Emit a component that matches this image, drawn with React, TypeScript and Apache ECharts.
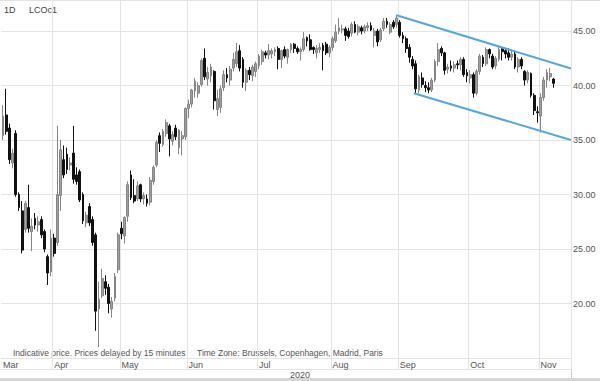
import React, { useEffect, useRef } from "react";
import * as echarts from "echarts";

// Trading days shown on the category axis (2020)
const marDays = [10, 11, 12, 13, 16, 17, 18, 19, 20, 23, 24, 25, 26, 27, 30, 31];
const aprDays = [1, 2, 3, 6, 7, 8, 9, 13, 14, 15, 16, 17, 20, 21, 22, 23, 24, 27, 28, 29, 30];
const mayDays = [1, 4, 5, 6, 7, 8, 11, 12, 13, 14, 15, 18, 19, 20, 21, 22, 25, 26, 27, 28, 29];
const junDays = [1, 2, 3, 4, 5, 8, 9, 10, 11, 12, 15, 16, 17, 18, 19, 22, 23, 24, 25, 26, 29, 30];
const julDays = [1, 2, 3, 6, 7, 8, 9, 10, 13, 14, 15, 16, 17, 20, 21, 22, 23, 24, 27, 28, 29, 30, 31];
const augDays = [3, 4, 5, 6, 7, 10, 11, 12, 13, 14, 17, 18, 19, 20, 21, 24, 25, 26, 27, 28, 31];
const sepDays = [1, 2, 3, 4, 7, 8, 9, 10, 11, 14, 15, 16, 17, 18, 21, 22, 23, 24, 25, 28, 29, 30];
const octDays = [1, 2, 5, 6, 7, 8, 9, 12, 13, 14, 15, 16, 19, 20, 21, 22, 23, 26, 27, 28, 29, 30];
const novDays = [2, 3, 4, 5, 6, 9, 10, 11, 12, 13];

const monthNames = ["Jan", "Feb", "Mar", "Apr", "May", "Jun", "Jul", "Aug", "Sep", "Oct", "Nov", "Dec"];

// [open, high, low, close]
const marOHLC = [
  [35.4, 38.2, 35.0, 37.2], [37.3, 39.7, 35.5, 35.8], [36.1, 36.5, 32.8, 33.2], [32.9, 34.2, 32.4, 33.8],
  [35.6, 35.9, 29.8, 30.0], [30.0, 30.2, 28.5, 28.8], [28.5, 29.4, 24.6, 24.9], [26.8, 29.4, 26.5, 29.2],
  [28.8, 30.9, 26.5, 26.9], [26.6, 27.8, 24.8, 27.1], [27.8, 28.3, 26.8, 27.2], [27.2, 28.0, 26.6, 27.5],
  [27.7, 28.0, 26.0, 26.3], [26.6, 26.8, 24.7, 25.0], [24.3, 24.5, 21.7, 22.8], [22.9, 26.8, 22.5, 26.0],
];
const aprOHLC = [
  [26.0, 26.4, 24.3, 24.6], [25.6, 36.3, 25.3, 30.0], [29.9, 35.0, 28.5, 34.1], [33.2, 34.5, 31.5, 31.8],
  [33.7, 34.3, 31.9, 32.3], [32.7, 33.4, 32.2, 32.9], [33.8, 36.3, 31.0, 31.4], [31.8, 32.5, 30.9, 31.2],
  [32.1, 32.3, 29.3, 29.5], [30.0, 30.2, 27.3, 27.6], [27.4, 28.4, 27.0, 28.1], [28.9, 29.2, 27.1, 27.4],
  [27.7, 28.0, 25.3, 25.6], [26.3, 26.5, 17.5, 19.3], [19.5, 22.0, 16.0, 20.4], [20.7, 23.2, 20.5, 22.3],
  [22.0, 22.6, 20.8, 21.4], [21.5, 21.8, 19.1, 20.0], [19.5, 20.6, 18.7, 20.2], [20.5, 22.8, 20.2, 22.5],
  [23.1, 26.5, 22.8, 26.3],
];
const mayOHLC = [
  [26.9, 27.5, 25.9, 26.4], [26.2, 28.0, 25.5, 27.9], [28.0, 31.2, 27.5, 30.9], [31.8, 32.2, 29.5, 29.7],
  [29.9, 31.4, 29.2, 29.4], [29.6, 31.2, 29.4, 30.8], [30.9, 31.0, 29.3, 29.6], [29.6, 30.2, 29.1, 29.9],
  [29.6, 30.0, 28.9, 29.2], [29.3, 31.6, 29.0, 31.3], [31.2, 32.7, 30.9, 32.5], [32.7, 35.0, 32.5, 34.8],
  [35.4, 35.7, 33.9, 34.7], [34.6, 36.0, 34.4, 35.8], [35.6, 36.9, 35.3, 36.6], [36.3, 36.5, 33.5, 35.1],
  [34.9, 35.8, 34.5, 35.5], [36.1, 36.4, 35.0, 35.3], [34.3, 36.0, 33.7, 35.9], [35.1, 35.8, 33.6, 35.4],
  [35.3, 38.0, 35.0, 37.9],
];
const junOHLC = [
  [37.9, 38.7, 37.0, 38.3], [38.3, 39.7, 38.0, 39.6], [39.5, 40.7, 38.9, 40.4], [39.3, 40.3, 38.9, 40.0],
  [40.1, 42.5, 39.9, 42.3], [42.5, 43.4, 40.5, 40.8], [40.6, 41.7, 40.0, 41.2], [40.9, 42.0, 40.3, 41.7],
  [41.3, 41.4, 37.8, 38.6], [37.8, 39.6, 37.2, 38.8], [38.0, 40.0, 37.5, 39.7], [39.8, 41.4, 39.5, 41.0],
  [41.0, 41.6, 40.3, 40.7], [40.5, 41.8, 40.0, 41.5], [41.6, 43.0, 41.3, 42.4], [42.0, 43.9, 41.7, 43.1],
  [43.2, 43.7, 41.3, 41.6], [42.4, 42.6, 39.8, 40.3], [40.3, 41.6, 39.5, 41.4], [41.4, 41.7, 40.5, 41.0],
  [40.9, 41.9, 40.4, 41.7], [41.3, 42.2, 40.8, 42.0],
];
const julOHLC = [
  [41.8, 42.9, 41.5, 42.7], [42.2, 43.3, 41.9, 43.1], [43.0, 43.2, 42.5, 42.8], [42.8, 43.8, 42.4, 43.2],
  [42.9, 43.4, 42.5, 43.2], [43.1, 43.5, 42.7, 43.3], [43.4, 43.6, 41.5, 42.4], [42.4, 43.3, 41.6, 43.2],
  [43.3, 43.6, 42.5, 42.7], [42.6, 43.4, 42.0, 43.3], [43.3, 43.9, 43.0, 43.8], [43.8, 43.9, 43.0, 43.4],
  [43.4, 43.6, 42.9, 43.1], [43.1, 43.5, 42.3, 43.3], [43.3, 44.9, 43.1, 44.3], [44.4, 44.5, 43.6, 44.1],
  [44.2, 44.7, 43.2, 43.3], [43.5, 43.6, 42.9, 43.3], [43.0, 43.7, 42.5, 43.4], [43.3, 43.9, 43.0, 43.5],
  [43.7, 43.9, 41.4, 43.2], [43.8, 44.0, 42.8, 43.0], [43.0, 43.7, 42.6, 43.5],
];
const augOHLC = [
  [43.5, 44.5, 43.2, 44.3], [44.1, 45.6, 43.9, 44.9], [45.0, 46.2, 44.7, 45.3], [45.1, 45.6, 44.8, 45.2],
  [45.2, 45.4, 44.1, 44.6], [45.0, 45.3, 44.3, 44.5], [44.8, 45.8, 44.5, 45.6], [45.6, 45.9, 44.8, 44.9],
  [44.9, 45.6, 44.6, 45.4], [45.3, 45.5, 44.7, 45.0], [45.0, 45.6, 44.8, 45.4], [45.3, 45.8, 45.0, 45.5],
  [45.5, 45.8, 45.0, 45.1], [44.6, 45.3, 43.5, 45.0], [45.0, 45.2, 43.6, 44.0], [44.2, 45.3, 44.0, 45.1],
  [45.2, 46.2, 45.0, 45.9], [45.9, 46.2, 45.3, 45.6], [44.9, 45.8, 44.7, 45.6], [45.8, 46.0, 45.2, 45.4],
  [45.6, 46.5, 45.3, 46.2],
];
const sepOHLC = [
  [45.8, 46.0, 44.4, 44.6], [44.6, 44.9, 43.9, 44.3], [44.3, 44.5, 43.0, 43.4], [43.5, 43.8, 42.1, 42.6],
  [42.4, 42.7, 41.5, 41.8], [42.0, 42.3, 39.3, 39.7], [39.6, 41.0, 39.3, 40.8], [40.7, 41.2, 39.8, 40.1],
  [40.0, 40.4, 39.4, 39.8], [39.8, 40.3, 39.3, 39.6], [39.6, 40.7, 39.4, 40.5], [40.5, 42.4, 40.3, 42.2],
  [42.2, 43.9, 41.8, 43.3], [43.4, 43.6, 42.7, 43.0], [43.0, 43.1, 41.0, 41.4], [41.5, 42.0, 41.1, 41.7],
  [41.8, 42.3, 41.3, 41.6], [41.6, 42.2, 41.2, 41.9], [42.0, 42.3, 41.5, 41.9], [41.9, 42.6, 41.4, 42.4],
  [42.4, 42.6, 40.8, 41.0], [41.2, 41.5, 40.3, 40.9],
];
const octOHLC = [
  [40.7, 41.4, 40.2, 41.0], [41.0, 41.2, 38.9, 39.3], [39.3, 41.5, 39.1, 41.3], [41.3, 42.9, 41.0, 42.7],
  [42.6, 42.8, 41.7, 42.0], [42.0, 43.5, 41.8, 43.3], [43.3, 43.4, 42.5, 42.9], [42.7, 42.9, 41.5, 41.7],
  [41.8, 42.7, 41.5, 42.5], [42.4, 43.6, 42.2, 43.3], [43.4, 43.5, 42.3, 43.1], [43.2, 43.4, 42.5, 42.9],
  [43.0, 43.4, 42.3, 42.6], [42.6, 43.3, 42.3, 42.9], [42.9, 43.2, 41.5, 41.7], [41.7, 42.6, 41.2, 42.4],
  [42.4, 42.6, 41.5, 41.8], [41.3, 41.4, 40.0, 40.5], [40.5, 41.4, 40.2, 41.2], [41.1, 41.2, 38.9, 39.1],
  [39.1, 39.3, 37.3, 37.7], [37.6, 38.1, 36.6, 37.5],
];
const novOHLC = [
  [37.2, 39.3, 35.7, 38.9], [38.9, 40.8, 38.6, 40.5], [40.5, 41.5, 39.8, 41.2], [40.8, 41.6, 40.4, 41.1],
  [40.6, 40.7, 39.8, 40.2],
];

// Trend channel endpoints: [category index, price]
const upperChannel = [[123, 46.45], [177.5, 41.57]];
const lowerChannel = [[128.4, 39.3], [177.5, 35.0]];

const yTicks = { min: 15, max: 47.85, interval: 5 };

const monthBlocks: [number, number[]][] = [
  [3, marDays], [4, aprDays], [5, mayDays], [6, junDays], [7, julDays],
  [8, augDays], [9, sepDays], [10, octDays], [11, novDays],
];
const categories: string[] = [];
monthBlocks.forEach(([m, days]) => {
  days.forEach((d) => {
    categories.push(`2020-${String(m).padStart(2, "0")}-${String(d).padStart(2, "0")}`);
  });
});
const monthStart = new Set<number>();
categories.forEach((c, i) => {
  if (i === 0 || c.slice(5, 7) !== categories[i - 1].slice(5, 7)) monthStart.add(i);
});

const ohlc = [
  ...marOHLC, ...aprOHLC, ...mayOHLC, ...junOHLC, ...julOHLC,
  ...augOHLC, ...sepOHLC, ...octOHLC, ...novOHLC,
];
const candleData = ohlc.map(([o, h, l, c]) => [o, c, l, h]);

const FONT = "'Liberation Sans', Arial, sans-serif";
const GRID = "#e4e4e4";
const TXT = "#555";
const PLOT_W = 571;
const PLOT_H = 358;

export default function App() {
  const ref = useRef<HTMLDivElement>(null);
  useEffect(() => {
    if (!ref.current) return;
    const chart = echarts.init(ref.current, null, { renderer: "svg" });
    const option: any = {
      animation: false,
      backgroundColor: "#ffffff",
      grid: { left: 0, top: 0, width: PLOT_W, height: PLOT_H, containLabel: false },
      xAxis: [
        {
          type: "category",
          data: categories,
          boundaryGap: true,
          axisLine: { show: true, lineStyle: { color: GRID, width: 1 } },
          axisTick: {
            show: true,
            length: 11,
            interval: (i: number) => monthStart.has(i) && i > 0,
            lineStyle: { color: GRID },
          },
          splitLine: {
            show: true,
            interval: (i: number) => monthStart.has(i) && i > 0,
            lineStyle: { color: GRID, width: 1 },
          },
          axisLabel: {
            interval: (i: number) => monthStart.has(i),
            formatter: (v: string) => monthNames[parseInt(v.slice(5, 7), 10) - 1],
            align: "left",
            margin: 2,
            color: TXT,
            fontSize: 9,
            fontFamily: FONT,
          },
        },
        {
          type: "value",
          min: -0.5,
          max: categories.length - 0.5,
          show: false,
        },
      ],
      yAxis: {
        type: "value",
        position: "right",
        min: yTicks.min,
        max: yTicks.max,
        interval: yTicks.interval,
        axisLine: { show: false },
        axisTick: { show: false },
        splitLine: { show: true, lineStyle: { color: GRID, width: 1 } },
        axisLabel: {
          formatter: (v: number) => v.toFixed(2),
          showMinLabel: false,
          showMaxLabel: false,
          margin: 2,
          color: TXT,
          fontSize: 9,
          fontFamily: FONT,
        },
      },
      series: [
        {
          type: "candlestick",
          xAxisIndex: 0,
          data: candleData,
          barWidth: 2.4,
          itemStyle: {
            color: "#a0a0a0",
            color0: "#111111",
            borderColor: "#858585",
            borderColor0: "#111111",
            borderWidth: 1,
          },
        },
        {
          type: "line",
          xAxisIndex: 1,
          data: upperChannel,
          symbol: "none",
          lineStyle: { color: "#55a7dc", width: 2 },
          z: 5,
        },
        {
          type: "line",
          xAxisIndex: 1,
          data: lowerChannel,
          symbol: "none",
          lineStyle: { color: "#55a7dc", width: 2 },
          z: 5,
        },
      ],
      graphic: [
        { type: "line", shape: { x1: 0, y1: 0.5, x2: 600, y2: 0.5 }, style: { stroke: "#dcdcdc", lineWidth: 1 } },
        { type: "line", shape: { x1: 571.5, y1: 0, x2: 571.5, y2: 381 }, style: { stroke: "#cfcfcf", lineWidth: 1 } },
        { type: "line", shape: { x1: 0, y1: 369.5, x2: 571, y2: 369.5 }, style: { stroke: GRID, lineWidth: 1 } },
        { type: "rect", shape: { x: 0, y: 378, width: 600, height: 3 }, style: { fill: "#d6d6d6" } },
        {
          type: "text", x: 300, y: 375,
          style: { text: "2020", fill: TXT, font: `9px ${FONT}`, align: "center", verticalAlign: "middle" },
        },
        {
          type: "text", x: 4, y: 10,
          style: { text: "1D", fill: "#444", font: `9px ${FONT}`, verticalAlign: "middle" },
        },
        {
          type: "text", x: 29, y: 10,
          style: { text: "LCOc1", fill: "#444", font: `9px ${FONT}`, verticalAlign: "middle" },
        },
        {
          type: "text", x: 13, y: 352.5,
          style: { text: "Indicative price. Prices delayed by 15 minutes", fill: TXT, font: `8.5px ${FONT}`, verticalAlign: "middle" },
        },
        {
          type: "text", x: 197, y: 352.5,
          style: { text: "Time Zone: Brussels, Copenhagen, Madrid, Paris", fill: TXT, font: `8.5px ${FONT}`, verticalAlign: "middle" },
        },
      ],
    };
    chart.setOption(option);
    return () => chart.dispose();
  }, []);
  return (
    <div
      ref={ref}
      style={{ position: "fixed", left: 0, top: 0, width: 600, height: 381, background: "#fff" }}
    />
  );
}
